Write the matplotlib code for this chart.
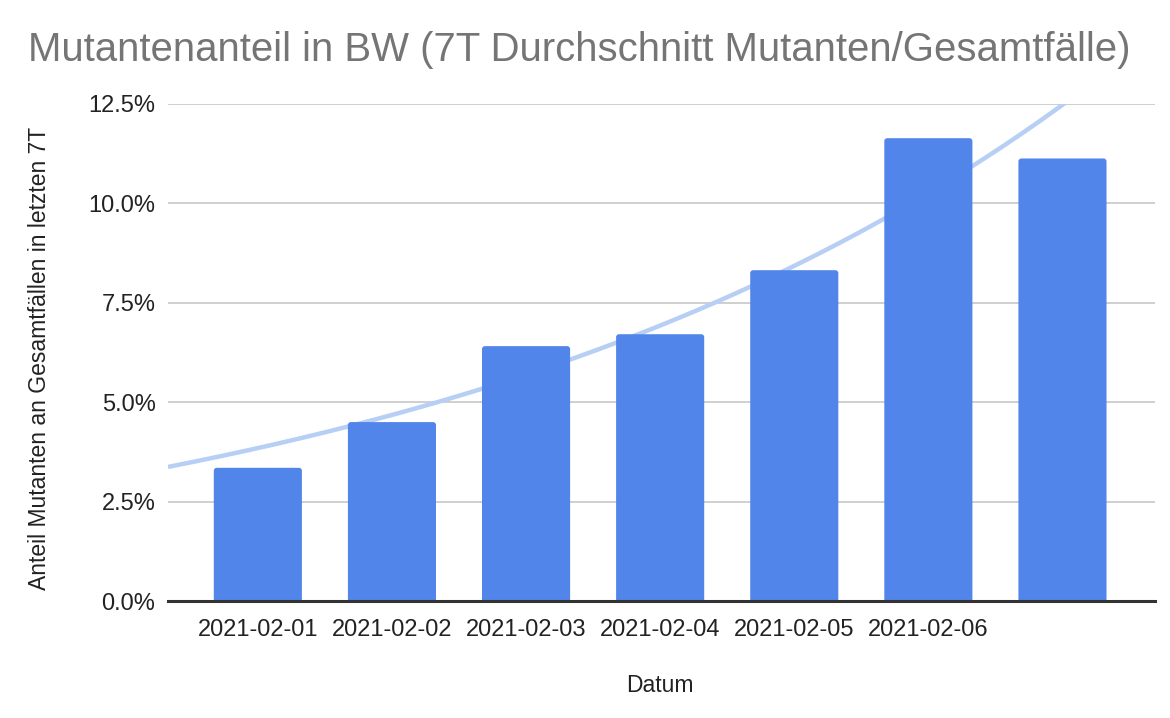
import numpy as np
import matplotlib
matplotlib.use("Agg")
import matplotlib.pyplot as plt
from matplotlib.patches import FancyBboxPatch

plt.rcParams['font.family'] = ['Liberation Sans', 'DejaVu Sans']

dates = ["2021-02-01", "2021-02-02", "2021-02-03", "2021-02-04",
         "2021-02-05", "2021-02-06", ""]
share_pct = [3.35, 4.50, 6.41, 6.71, 8.32, 11.64, 11.13]
yticks = [0.0, 2.5, 5.0, 7.5, 10.0, 12.5]

title = "Mutantenanteil in BW (7T Durchschnitt Mutanten/Gesamtfälle)"
ylabel = "Anteil Mutanten an Gesamtfällen in letzten 7T"
xlabel = "Datum"

W, H = 1170, 718
fig = plt.figure(figsize=(W / 100, H / 100), dpi=100)
ax = fig.add_axes([168 / W, (H - 601) / H, (1155 - 168) / W, (601 - 104) / H])

xl = (-0.67, 6.69)
ax.set_xlim(*xl)
ax.set_ylim(0, 12.5)

x = np.arange(len(share_pct))
y = np.array(share_pct)
bars = ax.bar(x, y, width=0.657, color="#5285EA", zorder=2)

# slightly rounded top corners
rx = 0.022
aspect = 3.37
for r in list(bars.patches):
    x0, w, h = r.get_x(), r.get_width(), r.get_height()
    ry = rx * aspect
    p = FancyBboxPatch((x0, -ry), w, h + ry,
                       boxstyle=f"round,pad=0,rounding_size={rx}",
                       mutation_aspect=aspect, fc="#5285EA", ec="none",
                       zorder=2)
    ax.add_patch(p)
    r.set_visible(False)

# exponential trendline
b, lnA = np.polyfit(x, np.log(y), 1, w=np.sqrt(y))
xt = np.linspace(xl[0], xl[1], 300)
ax.plot(xt, np.exp(lnA + b * xt), color="#B7CEF5", lw=3.2, zorder=1.5,
        solid_capstyle="butt")

ax.set_yticks(yticks)
ax.set_yticklabels([f"{v:.1f}%" for v in yticks])
ax.set_xticks(x)
ax.set_xticklabels(dates)
ax.tick_params(axis="both", length=0, labelsize=17, colors="#222222")
ax.tick_params(axis="x", pad=13)
ax.tick_params(axis="y", pad=9)
ax.grid(axis="y", color="#CCCCCC", lw=1.3, zorder=0)
ax.set_axisbelow(True)
for s in ["top", "right", "left"]:
    ax.spines[s].set_visible(False)
ax.spines["bottom"].set_color("#333333")
ax.spines["bottom"].set_linewidth(2.2)
ax.spines["bottom"].set_zorder(4)

fig.text(28 / W, 1 - 50 / H, title, fontsize=28.9, color="#757575",
         ha="left", va="center")
fig.text(40 / W, 1 - 358 / H, ylabel, fontsize=16.5, color="#222222",
         rotation=90, ha="center", va="center")
fig.text(660 / W, 1 - 685 / H, xlabel, fontsize=16.5, color="#222222",
         ha="center", va="center")

fig.savefig("out.png", dpi=100)
